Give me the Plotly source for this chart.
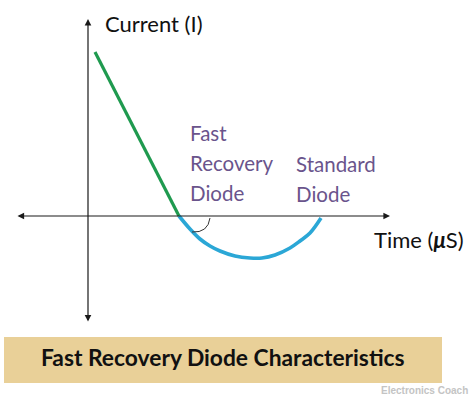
import plotly.graph_objects as go

# Schematic data (time units, current units), origin at the axes crossing
green_t = [0.7, 9.1]
green_i = [16.4, 0.0]

blue_t = [9.1, 10.2, 11.2, 12.2, 13.2, 14.7, 16.2, 17.4, 18.7, 20.2, 21.2, 22.2, 23.3]
blue_i = [0.0, -1.3, -2.3, -3.0, -3.5, -4.0, -4.2, -4.2, -3.9, -3.2, -2.5, -1.7, -0.2]

x_label = "Time (<b><i>μ</i></b>S)"
y_label = "Current (I)"
title = "Fast Recovery Diode Characteristics"
fast_label = ["Fast", "Recovery", "Diode"]
std_label = ["Standard", "Diode"]
credit = "Electronics Coach"

W, H = 474, 397
XR = [-8.8, 38.6]
YR = [-18.1, 21.6]

fig = go.Figure()

fig.add_trace(go.Scatter(x=green_t, y=green_i, mode="lines",
                         line=dict(color="#1f9a4f", width=3.2), hoverinfo="skip"))
fig.add_trace(go.Scatter(x=blue_t, y=blue_i, mode="lines", line_shape="spline",
                         line=dict(color="#2ba7d6", width=3.6), hoverinfo="skip"))

ann = []
axis_col = "#1a1a1a"
# horizontal axis, double arrow
ann.append(dict(x=30.2, y=0, ax=-7.2, ay=0, xref="x", yref="y", axref="x", ayref="y",
                text="", showarrow=True, arrowhead=2, startarrowhead=2, arrowside="end+start",
                arrowsize=1.1, startarrowsize=1.1, arrowwidth=1.2, arrowcolor=axis_col))
# vertical axis, double arrow
ann.append(dict(x=0, y=19.7, ax=0, ay=-10.7, xref="x", yref="y", axref="x", ayref="y",
                text="", showarrow=True, arrowhead=2, startarrowhead=2, arrowside="end+start",
                arrowsize=1.1, startarrowsize=1.1, arrowwidth=1.2, arrowcolor=axis_col))

font_main = "Lato, 'Open Sans', sans-serif"
ann.append(dict(x=1.45, y=19.3, xref="x", yref="y", text=y_label, showarrow=False,
                xanchor="left", yanchor="middle", font=dict(size=22, color="#111", family=font_main)))
ann.append(dict(x=28.4, y=-2.35, xref="x", yref="y", text=x_label, showarrow=False,
                xanchor="left", yanchor="middle", font=dict(size=22, color="#111", family=font_main)))

purple = "#6a548c"
for k, s in enumerate(fast_label):
    ann.append(dict(x=9.95, y=8.3 - 3.0 * k, xref="x", yref="y", text=s, showarrow=False,
                    xanchor="left", yanchor="middle", font=dict(size=20.5, color=purple, family=font_main)))
for k, s in enumerate(std_label):
    ann.append(dict(x=20.55, y=5.2 - 2.95 * k, xref="x", yref="y", text=s, showarrow=False,
                    xanchor="left", yanchor="middle", font=dict(size=20.5, color=purple, family=font_main)))

# title banner
ann.append(dict(x=(42 + 403) / 2 / W, y=1 - 357 / H, xref="paper", yref="paper", text="<b>" + title + "</b>",
                showarrow=False, xanchor="center", yanchor="middle",
                font=dict(size=22.8, color="#111", family=font_main)))
ann.append(dict(x=470 / W, y=1 - 390 / H, xref="paper", yref="paper", text="<b>" + credit + "</b>",
                showarrow=False, xanchor="right", yanchor="middle",
                font=dict(size=10, color="#c4c4c4", family="Liberation Sans, Arial, sans-serif")))

shapes = [
    dict(type="rect", xref="paper", yref="paper", x0=4 / W, x1=442 / W, y0=1 - 383 / H, y1=1 - 337 / H,
         fillcolor="#e9d098", line=dict(width=0), layer="below"),
    # angle arc at the zero crossing
    dict(type="path", xref="x", yref="y",
         path="M 12.2,-0.2 Q 12.0,-1.7 10.4,-1.6",
         line=dict(color="#333", width=1)),
]

fig.update_layout(
    width=W, height=H, margin=dict(l=0, r=0, t=0, b=0),
    paper_bgcolor="white", plot_bgcolor="white", showlegend=False,
    xaxis=dict(range=XR, visible=False, fixedrange=True),
    yaxis=dict(range=YR, visible=False, fixedrange=True),
    annotations=ann, shapes=shapes,
)

fig.write_html("out.html", config=dict(displayModeBar=False),
               post_script="document.body.style.margin='0px';")
